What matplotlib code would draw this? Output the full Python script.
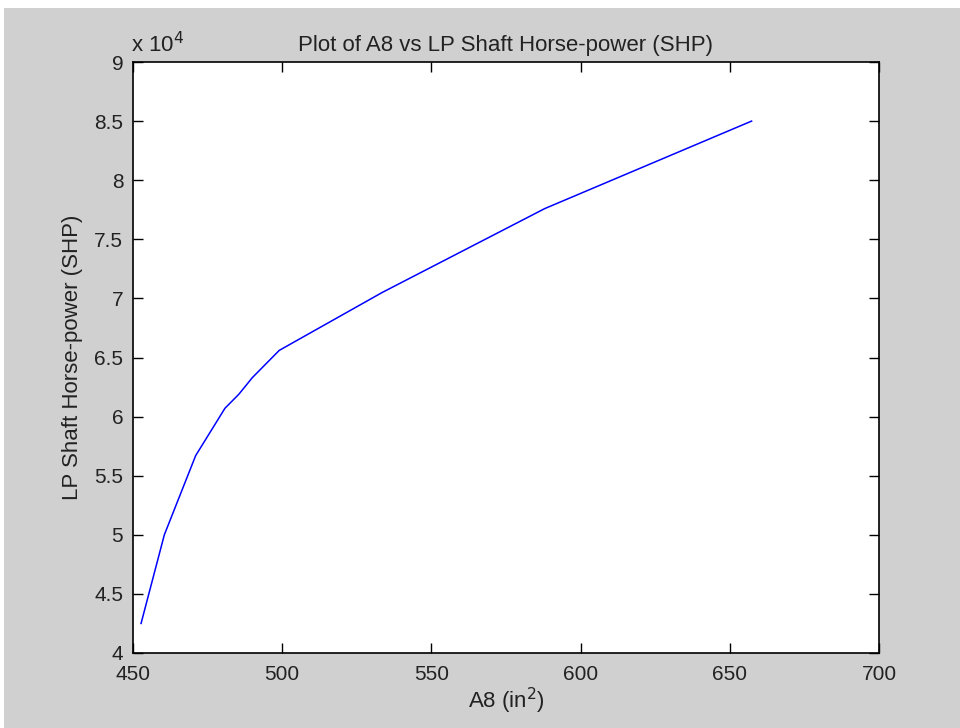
import matplotlib
matplotlib.use("Agg")
import matplotlib.pyplot as plt
from matplotlib.patches import Rectangle

# values
a8 = [452.7, 460.5, 471.0, 480.8, 485.5, 490.0, 499.0, 533.5, 588.0, 657.3]
shp = [42500, 50000, 56700, 60700, 61900, 63300, 65600, 70500, 77600, 85000]

x_ticks = [450, 500, 550, 600, 650, 700]
y_ticks = [40000, 45000, 50000, 55000, 60000, 65000, 70000, 75000, 80000, 85000, 90000]
y_tick_labels = ["4", "4.5", "5", "5.5", "6", "6.5", "7", "7.5", "8", "8.5", "9"]

plt.rcParams["font.family"] = ["Liberation Sans", "DejaVu Sans"]

fig = plt.figure(figsize=(9.6, 7.28), dpi=100, facecolor="white")
# grey figure panel (white strip at top and left like the screenshot)
fig.patches.append(Rectangle((4 / 960, 0), 1, 1 - 8 / 728, transform=fig.transFigure,
                             facecolor="#d0d0d0", edgecolor="none", zorder=-10))

ax = fig.add_axes([133 / 960, 1 - 653 / 728, (879 - 133) / 960, (653 - 62) / 728])
ax.set_facecolor("white")
ax.plot(a8, shp, color="#0000ff", linewidth=1.1)

ax.set_xlim(450, 700)
ax.set_ylim(40000, 90000)
ax.set_xticks(x_ticks)
ax.set_yticks(y_ticks)
ax.set_yticklabels(y_tick_labels)
ax.tick_params(direction="in", length=7, width=1, top=True, right=True,
               labelsize=15, colors="black", labelcolor="#222222")
ax.tick_params(axis="x", pad=9)
ax.tick_params(axis="y", pad=7)
for sp in ax.spines.values():
    sp.set_linewidth(1.2)

ax.set_title("Plot of A8 vs LP Shaft Horse-power (SHP)", fontsize=16, color="#222222", pad=8)
ax.set_xlabel("A8 (in$^2$)", fontsize=16, color="#222222", labelpad=1)
ax.set_ylabel("LP Shaft Horse-power (SHP)", fontsize=16, color="#222222", labelpad=8)
ax.text(-0.003, 1.008, "x 10$^4$", transform=ax.transAxes, fontsize=16,
        color="#222222", ha="left", va="bottom")

fig.savefig("out.png", dpi=100, facecolor=fig.get_facecolor())
